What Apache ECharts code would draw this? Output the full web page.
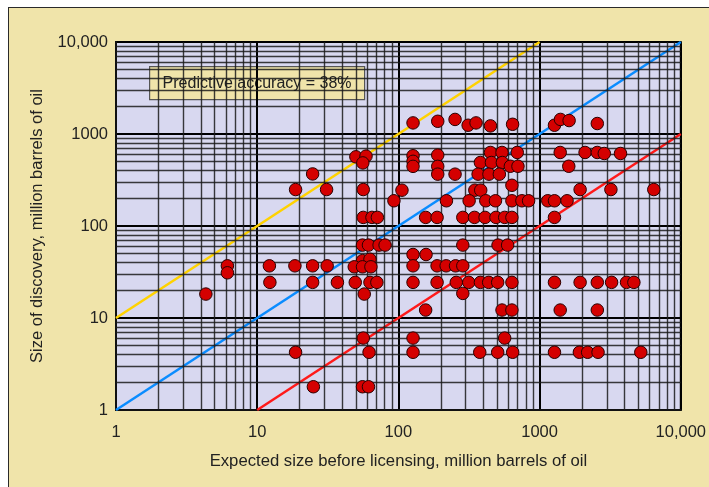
<!DOCTYPE html>
<html>
<head>
<meta charset="utf-8">
<script src="https://cdn.jsdelivr.net/npm/echarts@6/dist/echarts.min.js"></script>
<style>
  html, body { margin: 0; padding: 0; background: #ffffff; }
  #wrap { position: relative; width: 709px; height: 487px; overflow: hidden; }
  #panel { position: absolute; left: 8px; top: 7px; width: 720px; height: 500px;
           background: #F0E4AA; border-left: 1.5px solid #2a2a2a; border-top: 1.5px solid #2a2a2a; }
  #chart { position: absolute; left: 0; top: 0; width: 709px; height: 487px; }
</style>
</head>
<body>
<div id="wrap">
  <div id="panel"></div>
  <div id="chart"></div>
</div>
<script>
// Expected field size before licensing (x) and actual discovery size (y), million barrels
const expectedSize = [
  127, 190, 252, 312, 355, 449, 644, 1275, 1406, 1619, 2564,
  50, 59, 56, 127, 127, 127, 190, 190, 190, 252, 449, 542, 695, 1400, 2100, 2564, 2873, 3743,
  381, 456, 545, 621, 703, 1610, 367, 438, 519, 637, 24.7,
  18.7, 31, 56.4, 106, 348, 383, 1937, 3200, 6440,
  93, 219, 317, 416, 487, 637, 750, 836, 1143, 1275, 1566,
  56.4, 65, 71, 156, 188, 286, 346, 411, 491, 566, 637, 1275,
  55.7, 61.4, 73, 80.5, 286, 508, 594,
  127, 157, 55.7, 62.9,
  6.15, 6.15, 12.2, 18.5, 24.7, 31.3, 48.7, 55.7, 63.9, 127, 188, 218, 254, 286,
  12.3, 24.7, 37, 49.5, 62.9, 70.4, 127, 188, 257, 315, 381, 436, 505, 637, 1275, 1937, 2564, 3236, 4130, 4655,
  4.33, 57.3, 286,
  156, 542, 637, 1400, 2564,
  56.4, 127, 566,
  18.7, 62, 127, 377, 505, 645, 1275, 1914, 2190, 2595, 5212,
  25, 55.7, 61.4
];
const discoverySize = [
  1320, 1375, 1440, 1245, 1320, 1225, 1275, 1245, 1440, 1400, 1300,
  565, 575, 485, 580, 505, 445, 590, 445, 366, 366, 630, 630, 630, 630, 630, 630, 614, 614,
  490, 490, 490, 446, 446, 446, 366, 366, 366, 277, 368,
  249, 249, 249, 245, 245, 245, 249, 249, 249,
  188, 188, 188, 188, 188, 188, 188, 188, 188, 188, 188,
  124, 124, 124, 124, 124, 124, 124, 124, 124, 124, 124, 124,
  62, 62, 62, 62, 62, 62, 62,
  49, 49, 42, 43.5,
  36.9, 31, 36.9, 36.9, 36.9, 36.9, 36, 36, 36, 36.9, 36.9, 36.9, 36.9, 36.9,
  24.4, 24.4, 24.4, 24.4, 24.4, 24.4, 24.4, 24.4, 24.4, 24.4, 24.4, 24.4, 24.4, 24.4, 24.4, 24.4, 24.4, 24.4, 24.4, 24.4,
  18.2, 18.2, 18.5,
  12.2, 12.2, 12.2, 12.2, 12.2,
  6.05, 6.05, 6.05,
  4.24, 4.24, 4.24, 4.24, 4.24, 4.24, 4.24, 4.24, 4.24, 4.24, 4.24,
  1.79, 1.79, 1.79
];

// Reference diagonals: ten times, equal to, and one tenth of the expectation
const overLine  = [[1, 10], [1000, 10000]];
const equalLine = [[1, 1], [10000, 10000]];
const underLine = [[10, 1], [10000, 1000]];

const axisMin = 1;
const axisMax = 10000;
const decades = [1, 10, 100, 1000];
const subSteps = [2, 3, 4, 5, 6, 7, 8, 9];
const accuracyText = 'Predictive accuracy = 38%';
const xTitle = 'Expected size before licensing, million barrels of oil';
const yTitle = 'Size of discovery, million barrels of oil';

const minorValues = [];
decades.forEach(d => subSteps.forEach(s => minorValues.push(d * s)));

const points = expectedSize.map((x, i) => [x, discoverySize[i]]);

const sans = '"Liberation Sans", Arial, sans-serif';
const tickFmt = v => (v >= 10000 ? '10,000' : String(v));

const chart = echarts.init(document.getElementById('chart'), null, { renderer: 'canvas' });

const gridLineStyle = { color: '#1b1b1b', width: 1.4, type: 'solid', opacity: 0.85 };

chart.setOption({
  backgroundColor: 'transparent',
  animation: false,
  grid: {
    left: 116, right: 26, top: 42, bottom: 77,
    show: true, backgroundColor: '#D8D8F0', borderColor: '#111', borderWidth: 2
  },
  xAxis: {
    type: 'log', logBase: 10, min: axisMin, max: axisMax,
    name: xTitle, nameLocation: 'middle', nameGap: 43,
    nameTextStyle: { fontFamily: sans, fontSize: 16.7, color: '#222' },
    axisLine: { show: true, lineStyle: { color: '#111', width: 2 } },
    axisTick: { show: false },
    axisLabel: { formatter: tickFmt, fontFamily: sans, fontSize: 16.5, color: '#222', margin: 14 },
    splitLine: { show: true, lineStyle: { color: '#000', width: 2 } },
    minorTick: { show: false }, minorSplitLine: { show: false }
  },
  yAxis: {
    type: 'log', logBase: 10, min: axisMin, max: axisMax,
    name: yTitle, nameLocation: 'middle', nameGap: 70, nameRotate: 90,
    nameTextStyle: { fontFamily: sans, fontSize: 16.5, color: '#222' },
    axisLine: { show: true, lineStyle: { color: '#111', width: 2 } },
    axisTick: { show: false },
    axisLabel: { formatter: tickFmt, fontFamily: sans, fontSize: 16.5, color: '#222', margin: 8 },
    splitLine: { show: true, lineStyle: { color: '#000', width: 2 } },
    minorTick: { show: false }, minorSplitLine: { show: false }
  },
  graphic: [{
    type: 'group', left: 149, top: 66, z: 100,
    children: [
      { type: 'rect', shape: { x: 0, y: 0, width: 215, height: 33 },
        style: { fill: '#F0E4AA', stroke: '#555', lineWidth: 1.2 } },
      { type: 'text', x: 107.5, y: 17,
        style: { text: accuracyText, fill: '#222', font: '16px ' + sans,
                 textAlign: 'center', textVerticalAlign: 'middle' } }
    ]
  }],
  series: [
    {
      name: 'grid-minor', type: 'line', data: [], silent: true, z: 1,
      markLine: {
        silent: true, symbol: ['none', 'none'], label: { show: false },
        lineStyle: gridLineStyle, animation: false,
        data: minorValues.map(v => ({ xAxis: v })).concat(minorValues.map(v => ({ yAxis: v })))
      }
    },
    { name: 'over', type: 'line', data: overLine, symbol: 'none', z: 3,
      lineStyle: { color: '#FFD200', width: 2.5 } },
    { name: 'equal', type: 'line', data: equalLine, symbol: 'none', z: 3,
      lineStyle: { color: '#0A8CFF', width: 2.5 } },
    { name: 'under', type: 'line', data: underLine, symbol: 'none', z: 3,
      lineStyle: { color: '#FF1A1A', width: 2.5 } },
    {
      name: 'fields', type: 'scatter', data: points, symbol: 'circle', symbolSize: 12.5, z: 5,
      itemStyle: { color: '#D40000', borderColor: '#2a0000', borderWidth: 1, opacity: 1 }
    }
  ]
});
</script>
</body>
</html>
